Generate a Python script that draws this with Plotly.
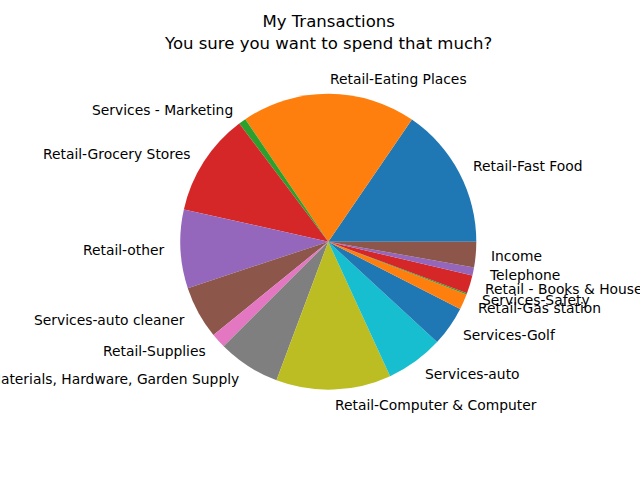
import math
import plotly.graph_objects as go

categories = [
    "Retail-Fast Food", "Retail-Eating Places", "Services - Marketing",
    "Retail-Grocery Stores", "Retail-other", "Services-auto cleaner",
    "Retail-Supplies", "Materials, Hardware, Garden Supply",
    "Retail-Computer & Computer", "Services-auto", "Services-Golf",
    "Retail-Gas station", "Services-Safety", "Retail - Books & House",
    "Telephone", "Income",
]
amounts = [55.6, 68.5, 2.9, 40.4, 30.9, 20.8, 5.9, 24.5, 45.2, 22.6, 15.7,
           6.1, 0.5, 7.2, 3.2, 10.0]
palette = ["#1f77b4", "#ff7f0e", "#2ca02c", "#d62728", "#9467bd",
           "#8c564b", "#e377c2", "#7f7f7f", "#bcbd22", "#17becf"]
title_lines = ["My Transactions", "You sure you want to spend that much?"]

W, H = 640, 480
CX, CY, R = 328.3, 241.7, 148.0
FONT = "DejaVu Sans"

colors = [palette[i % len(palette)] for i in range(len(amounts))]
total = sum(amounts)
rotation = 90 - 360.0 * amounts[0] / total

fig = go.Figure(go.Pie(
    labels=categories, values=amounts, sort=False,
    direction="counterclockwise", rotation=rotation,
    marker=dict(colors=colors, line=dict(width=0)),
    textinfo="none", showlegend=False,
    domain=dict(x=[(CX - R) / W, (CX + R) / W],
                y=[1 - (CY + R) / H, 1 - (CY - R) / H]),
))

annotations = []
start = 0.0
for lab, v in zip(categories, amounts):
    mid = math.radians(start + 180.0 * v / total)
    start += 360.0 * v / total
    x = CX + 1.1 * R * math.cos(mid)
    y = CY - 1.1 * R * math.sin(mid)
    annotations.append(dict(
        x=x / W, y=1 - (y + 0.5) / H, xref="paper", yref="paper", text=lab,
        showarrow=False, xanchor="left" if math.cos(mid) > 0 else "right",
        yanchor="middle", borderpad=0,
        font=dict(family=FONT, size=13.85, color="black"),
    ))

annotations.append(dict(
    x=CX / W, y=1 - 32.5 / H, xref="paper", yref="paper",
    text="<br>".join(title_lines), showarrow=False,
    xanchor="center", yanchor="middle", borderpad=0,
    font=dict(family=FONT, size=16.55, color="black"),
))

fig.update_layout(
    width=W, height=H, margin=dict(l=0, r=0, t=0, b=0),
    paper_bgcolor="white", plot_bgcolor="white",
    annotations=annotations,
)

fig.write_html("out.html")
